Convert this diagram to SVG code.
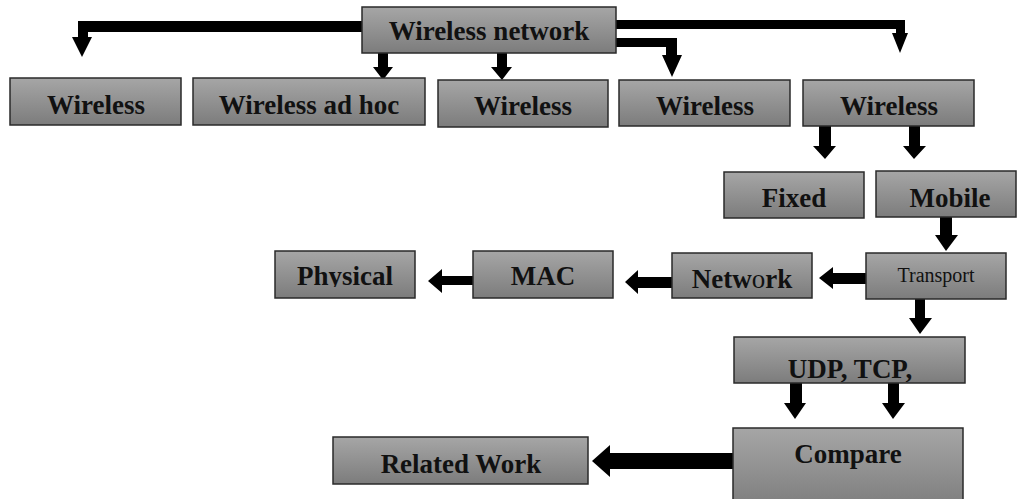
<svg xmlns="http://www.w3.org/2000/svg" width="1020" height="499" viewBox="0 0 1020 499">
  <defs>
    <linearGradient id="g" x1="0" y1="0" x2="0" y2="1">
      <stop offset="0" stop-color="#a6a6a6"/>
      <stop offset="1" stop-color="#7c7c7c"/>
    </linearGradient>
    <clipPath id="clipPhys"><rect x="275" y="251" width="140" height="36"/></clipPath>
    <clipPath id="clipUdp"><rect x="734" y="337" width="231" height="45"/></clipPath>
  </defs>
  <style>
    .box { fill: url(#g); stroke: #2a2a2a; stroke-width: 1.5; }
    .lbl { font-family: "Liberation Serif", "Times New Roman", serif; font-weight: bold; font-size: 27px; fill: #111; text-anchor: middle; }
    .sm { font-family: "Liberation Serif", "Times New Roman", serif; font-weight: normal; font-size: 20px; fill: #111; text-anchor: middle; }
    .arr { fill: #000; stroke: none; }
  </style>
  <rect width="1020" height="499" fill="#fff"/>

  <g id="connectors">
    <polygon class="arr" points="362,21 78,21 78,37 72,37 82,57 92,37 88,37 88,32 362,32"/>
    <polygon class="arr" points="378,53 388,53 388,67 393,67 383,80 373,67 378,67"/>
    <polygon class="arr" points="497,53 507,53 507,67 512,67 502,80 491,67 497,67"/>
    <polygon class="arr" points="616,20 905,20 905,33 908,33 900,53 892,33 896,33 896,29 616,29"/>
    <polygon class="arr" points="616,38 677,38 677,55 682,55 672,77 662,55 666,55 666,47 616,47"/>
    <polygon class="arr" points="819,126 831,126 831,146 836,146 825,159 813,146 819,146"/>
    <polygon class="arr" points="909,126 920,126 920,146 926,146 914,159 903,146 909,146"/>
    <polygon class="arr" points="940,217 952,217 952,235 958,235 946,251 935,235 940,235"/>
    <polygon class="arr" points="866,273 833,273 833,267 819,278 833,289 833,284 866,284"/>
    <polygon class="arr" points="672,277 638,277 638,270 625,282 638,294 638,288 672,288"/>
    <polygon class="arr" points="473,276 442,276 442,269 428,281 442,293 442,285 473,285"/>
    <polygon class="arr" points="915,299 925,299 925,318 932,318 920,334 909,318 915,318"/>
    <polygon class="arr" points="790,383 802,383 802,403 806,403 795,419 784,403 790,403"/>
    <polygon class="arr" points="888,383 899,383 899,403 905,403 893,419 882,403 888,403"/>
    <polygon class="arr" points="733,453 610,453 610,445 592,461 610,477 610,469 733,469"/>
  </g>

  <g id="wireless-network"><rect class="box" x="362" y="7" width="254" height="46"/><text class="lbl" x="489" y="40">Wireless network</text></g>
  <g id="wireless-1"><rect class="box" x="10" y="78" width="171" height="47"/><text class="lbl" x="96" y="114">Wireless</text></g>
  <g id="wireless-adhoc"><rect class="box" x="193" y="78" width="232" height="47"/><text class="lbl" x="309" y="114">Wireless ad hoc</text></g>
  <g id="wireless-3"><rect class="box" x="438" y="80" width="170" height="47"/><text class="lbl" x="523" y="115">Wireless</text></g>
  <g id="wireless-4"><rect class="box" x="619" y="80" width="171" height="46"/><text class="lbl" x="705" y="115">Wireless</text></g>
  <g id="wireless-5"><rect class="box" x="803" y="80" width="171" height="46"/><text class="lbl" x="889" y="115">Wireless</text></g>
  <g id="fixed"><rect class="box" x="724" y="172" width="140" height="46"/><text class="lbl" x="794" y="207">Fixed</text></g>
  <g id="mobile"><rect class="box" x="876" y="171" width="140" height="46"/><text class="lbl" x="950" y="207">Mobile</text></g>
  <g id="transport"><rect class="box" x="866" y="253" width="140" height="46"/><text class="sm" x="936" y="282">Transport</text></g>
  <g id="network"><rect class="box" x="672" y="253" width="140" height="45"/><text class="lbl" x="742" y="288">Netw<tspan font-weight="normal">o</tspan>rk</text></g>
  <g id="mac"><rect class="box" x="473" y="251" width="140" height="47"/><text class="lbl" x="543" y="285">MAC</text></g>
  <g id="physical"><rect class="box" x="275" y="251" width="140" height="47"/><text class="lbl" x="345" y="285" clip-path="url(#clipPhys)">Physical</text></g>
  <g id="udp-tcp"><rect class="box" x="734" y="337" width="231" height="46"/><text class="lbl" x="850" y="378" clip-path="url(#clipUdp)">UDP, TCP,</text></g>
  <g id="compare"><rect class="box" x="733" y="428" width="230" height="82"/><text class="lbl" x="848" y="463">Compare</text></g>
  <g id="related-work"><rect class="box" x="333" y="437" width="255" height="47"/><text class="lbl" x="461" y="473">Related Work</text></g>
</svg>
